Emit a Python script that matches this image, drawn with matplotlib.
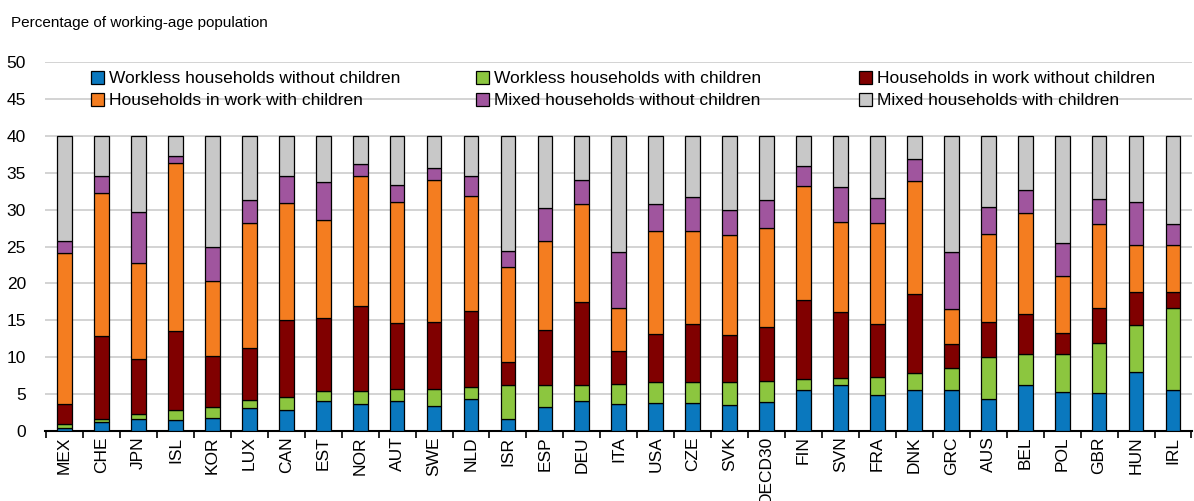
import matplotlib
matplotlib.use("Agg")
import matplotlib.pyplot as plt
import numpy as np

plt.rcParams['font.family'] = ['Liberation Sans', 'DejaVu Sans']

countries = ["MEX", "CHE", "JPN", "ISL", "KOR", "LUX", "CAN", "EST", "NOR", "AUT",
             "SWE", "NLD", "ISR", "ESP", "DEU", "ITA", "USA", "CZE", "SVK", "OECD30",
             "FIN", "SVN", "FRA", "DNK", "GRC", "AUS", "BEL", "POL", "GBR", "HUN", "IRL"]

# cumulative tops
cum_blue   = [0.4, 1.2, 1.6, 1.45, 1.7, 3.1, 2.8, 4.0, 3.6, 4.1, 3.4, 4.4, 1.6, 3.3, 4.0, 3.6,
              3.8, 3.8, 3.5, 3.9, 5.6, 6.2, 4.9, 5.5, 5.6, 4.4, 6.3, 5.3, 5.2, 8.0, 5.6]
cum_green  = [0.9, 1.6, 2.3, 2.9, 3.2, 4.2, 4.6, 5.4, 5.4, 5.7, 5.7, 6.0, 6.2, 6.2, 6.3, 6.4,
              6.6, 6.7, 6.7, 6.8, 7.1, 7.2, 7.3, 7.9, 8.6, 10.0, 10.4, 10.5, 11.9, 14.4, 16.7]
cum_maroon = [3.6, 12.9, 9.8, 13.6, 10.2, 11.3, 15.0, 15.3, 17.0, 14.6, 14.8, 16.2, 9.4, 13.7, 17.5, 10.9,
              13.1, 14.5, 13.0, 14.1, 17.8, 16.1, 14.5, 18.6, 11.8, 14.8, 15.8, 13.3, 16.7, 18.8, 18.9]
cum_orange = [24.1, 32.2, 22.7, 36.3, 20.3, 28.2, 30.9, 28.6, 34.6, 31.0, 34.0, 31.9, 22.2, 25.7, 30.7, 16.7,
              27.1, 27.1, 26.5, 27.5, 33.2, 28.3, 28.2, 33.9, 16.5, 26.7, 29.5, 21.0, 28.1, 25.2, 25.2]
cum_purple = [25.7, 34.5, 29.7, 37.2, 25.0, 31.3, 34.6, 33.8, 36.2, 33.3, 35.7, 34.6, 24.4, 30.2, 34.0, 24.3,
              30.7, 31.7, 30.0, 31.3, 35.9, 33.1, 31.6, 36.9, 24.3, 30.3, 32.7, 25.5, 31.4, 31.0, 28.1]
total = 40.0

series_names = ["Workless households without children", "Workless households with children",
                "Households in work without children", "Households in work with children",
                "Mixed households without children", "Mixed households with children"]
colors = ["#0A78BE", "#8CC63F", "#800000", "#F47D20", "#A0559E", "#C8C8C8"]

cums = [np.array(c) for c in (cum_blue, cum_green, cum_maroon, cum_orange, cum_purple)]
cums.append(np.full(len(countries), total))
vals = []
prev = np.zeros(len(countries))
for c in cums:
    vals.append(c - prev)
    prev = c

fig = plt.figure(figsize=(11.94, 5.01), dpi=100)
ax = fig.add_axes([0.038, 0.1397, 0.9605, 0.7365])

x = np.arange(len(countries))
bottom = np.zeros(len(countries))
handles = []
for v, col, name in zip(vals, colors, series_names):
    h = ax.bar(x, v, 0.4, bottom=bottom, color=col, edgecolor="black", linewidth=0.9,
               label=name, zorder=3)
    handles.append(h)
    bottom = bottom + v

ax.set_ylim(0, 50)
ax.set_xlim(-0.52, len(countries) - 0.48)
ax.set_yticks(np.arange(0, 51, 5))
ax.yaxis.grid(True, color="#D0D0D0", linewidth=1.3, zorder=0)
ax.set_axisbelow(True)
for s in ["left", "right", "top"]:
    ax.spines[s].set_visible(False)
ax.spines["bottom"].set_linewidth(1.5)
ax.tick_params(axis="y", length=0, labelsize=12.5, pad=14)
ax.set_xticks(x)
ax.set_xticklabels(countries, rotation=90, fontsize=12.5)
ax.tick_params(axis="x", length=0, pad=4)
ax.set_xticks(np.arange(-0.5, len(countries), 1), minor=True)
ax.tick_params(axis="x", which="minor", length=5, width=1.2, direction="out")

# legend: three equally spaced columns (two entries each)
col_groups = [[0, 3], [1, 4], [2, 5]]
col_x = [91, 476, 859]
for grp, xp in zip(col_groups, col_x):
    lg = fig.legend([handles[i] for i in grp], [series_names[i] for i in grp],
                    loc="upper left", bbox_to_anchor=(xp / 1194, 1 - 71 / 501),
                    frameon=False, fontsize=12.5, handlelength=0.75, handleheight=0.75,
                    handletextpad=0.3, labelspacing=0.38, borderaxespad=0.0,
                    borderpad=0.0)

fig.text(0.009, 0.955, "Percentage of working-age population", fontsize=11, va="center")

fig.savefig("out.png", dpi=100)
